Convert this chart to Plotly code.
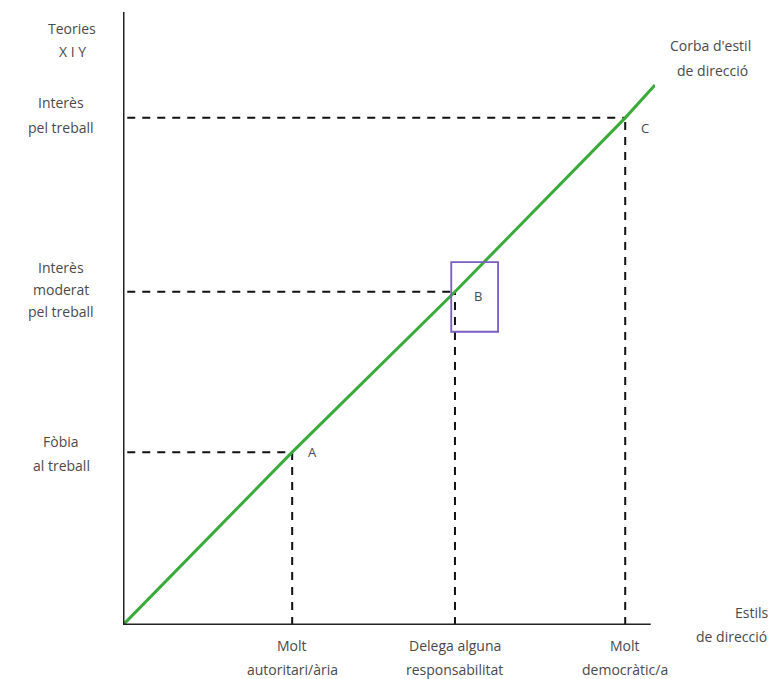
import plotly.graph_objects as go

# Data (chart units)
points = ["A", "B", "C"]
style_x = [3.18, 6.24, 9.44]          # Estils de direcció
theory_y = [3.20, 6.17, 9.39]         # Teories X i Y
x_labels = ["Molt<br>autoritari/ària", "Delega alguna<br>responsabilitat", "Molt<br>democràtic/a"]
y_labels = ["Fòbia<br>al treball", "Interès<br>moderat<br>pel treball", "Interès<br>pel treball"]
curve_x = [0, 3.18, 6.24, 9.44, 10.0]
curve_y = [0, 3.20, 6.17, 9.39, 10.0]

XMAX, YMAX = 10.0, 11.35
FONT = "Open Sans"
TXT = "#4a4a4a"
FS = 14

W, H, L, B, T, R = 774, 679, 123, 54, 12, 119
pw, ph = W - L - R, H - T - B
def px2paper(x, y):
    return (x - L) / pw, (H - B - y) / ph

fig = go.Figure()

# dashed guide lines
for px, py in zip(style_x, theory_y):
    fig.add_trace(go.Scatter(x=[0.08, px], y=[py, py], mode="lines",
                             line=dict(color="#111", width=2, dash="8px,7px"),
                             hoverinfo="skip", showlegend=False))
    fig.add_trace(go.Scatter(x=[px, px], y=[0, py], mode="lines",
                             line=dict(color="#111", width=2, dash="8px,7px"),
                             hoverinfo="skip", showlegend=False))

# green curve
fig.add_trace(go.Scatter(x=curve_x, y=curve_y, mode="lines",
                         line=dict(color="#3aaa3a", width=3),
                         hoverinfo="skip", showlegend=False))

shapes = []
# axes
shapes.append(dict(type="line", xref="x", yref="y", x0=0, x1=9.92, y0=0, y1=0,
                   line=dict(color="#222", width=3)))
shapes.append(dict(type="line", xref="x", yref="y", x0=0, x1=0, y0=0, y1=YMAX,
                   line=dict(color="#222", width=3)))
# highlight box around B
bx, by = style_x[1], theory_y[1]
shapes.append(dict(type="rect", xref="x", yref="y",
                   x0=bx - 0.07, x1=bx + 0.81, y0=by - 0.74, y1=by + 0.55,
                   line=dict(color="#7b5cc0", width=1.8)))

ann = []
# point labels
offs = [(20, 0), (23, -4), (20, -10)]
for name, px, py, (dx, dy) in zip(points, style_x, theory_y, offs):
    ann.append(dict(x=px, y=py, xref="x", yref="y", text=name, showarrow=False,
                    xshift=dx, yshift=dy, font=dict(family=FONT, size=13, color=TXT)))

LH = 24
# x category labels
for px, lab in zip(style_x, x_labels):
    for i, line in enumerate(lab.split("<br>")):
        ann.append(dict(x=px, y=0, xref="x", yref="y", text=line, showarrow=False,
                        yshift=-20 - i * LH, font=dict(family=FONT, size=FS, color=TXT)))

# y category labels (pixel offsets of each line centre from the level)
y_line_offsets = [[-11, 13], [-24, -2, 20], [-15, 10]]
y_label_x = px2paper(61, 0)[0]
for py, lab, offsets in zip(theory_y, y_labels, y_line_offsets):
    for line, off in zip(lab.split("<br>"), offsets):
        ann.append(dict(x=y_label_x, y=py, xref="paper", yref="y", text=line,
                        showarrow=False, xanchor="center", yanchor="middle",
                        yshift=-off, font=dict(family=FONT, size=FS, color=TXT)))

for text, (x, y) in [("Teories", (72, 28)), ("X I Y", (72, 51)),
                     ("Corba d'estil", (710, 45)), ("de direcció", (712, 70)),
                     ("Estils", (752, 612)), ("de direcció", (731, 636))]:
    xp, yp = px2paper(x, y)
    ann.append(dict(x=xp, y=yp, xref="paper", yref="paper", text=text, showarrow=False,
                    xanchor="center", yanchor="middle",
                    font=dict(family=FONT, size=FS, color=TXT)))

fig.update_layout(
    width=W, height=H,
    margin=dict(l=L, r=R, t=T, b=B),
    paper_bgcolor="white", plot_bgcolor="white",
    xaxis=dict(range=[0, XMAX], visible=False, fixedrange=True),
    yaxis=dict(range=[0, YMAX], visible=False, fixedrange=True),
    shapes=shapes, annotations=ann, showlegend=False,
)
fig.write_html("out.html", config={"displayModeBar": False},
               post_script="document.body.style.margin='0';document.body.style.overflow='hidden';")
